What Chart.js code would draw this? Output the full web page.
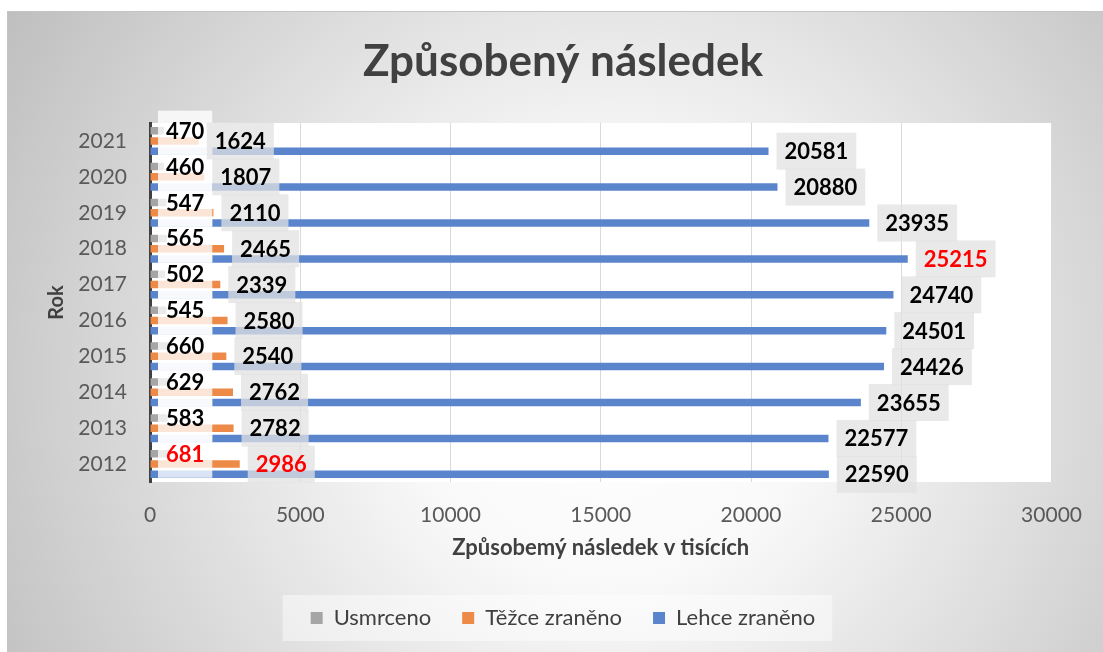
<!DOCTYPE html>
<html>
<head>
<meta charset="utf-8">
<script src="https://cdn.jsdelivr.net/npm/chart.js@4"></script>
<style>
  html, body { margin: 0; padding: 0; background: #fff; }
</style>
</head>
<body>
<canvas id="nasledek" width="1103" height="652"></canvas>
<script>
const years = ['2012', '2013', '2014', '2015', '2016', '2017', '2018', '2019', '2020', '2021'];
const usmrceno = [681, 583, 629, 660, 545, 502, 565, 547, 460, 470];
const tezce = [2986, 2782, 2762, 2540, 2580, 2339, 2465, 2110, 1807, 1624];
const lehce = [22590, 22577, 23655, 24426, 24501, 24740, 25215, 23935, 20880, 20581];
const seriesNames = ['Usmrceno', 'Těžce zraněno', 'Lehce zraněno'];
const seriesColors = ['#A5A5A5', '#EE8A47', '#5A85CD'];

const FONT = 'Lato';

// gradient frame, legend panel and white plot area
const backdrop = {
  id: 'backdrop',
  beforeDraw(chart) {
    const { ctx, chartArea: a, width, height } = chart;
    ctx.save();
    const g = ctx.createRadialGradient(610, 380, 30, 610, 380, 720);
    g.addColorStop(0, '#ffffff');
    g.addColorStop(0.25, '#f9f9f9');
    g.addColorStop(1, '#bdbdbd');
    ctx.fillStyle = g;
    ctx.fillRect(7, 11, width - 7, height - 11);
    ctx.strokeStyle = '#c4c4c4';
    ctx.lineWidth = 1;
    ctx.strokeRect(7.5, 11.5, width, height);

    const hb = chart.legend.legendHitBoxes;
    if (hb && hb.length) {
      const l = Math.min(...hb.map(b => b.left));
      const r = Math.max(...hb.map(b => b.left + b.width));
      const cy = hb[0].top + hb[0].height / 2;
      ctx.fillStyle = 'rgba(255,255,255,0.45)';
      ctx.fillRect(l - 28, cy - 23, r - l + 45, 46);
    }

    ctx.fillStyle = '#ffffff';
    ctx.fillRect(a.left, a.top, a.right - a.left, a.bottom - a.top);
    ctx.restore();
  }
};

// value labels in translucent boxes, max of each series in red
const valueBoxes = {
  id: 'valueBoxes',
  afterDatasetsDraw(chart) {
    const { ctx, scales: { x } } = chart;
    ctx.save();
    ctx.font = 'bold 22px ' + FONT;
    ctx.textBaseline = 'middle';
    ctx.textAlign = 'left';
    chart.data.datasets.forEach((ds, di) => {
      const meta = chart.getDatasetMeta(di);
      const maxVal = Math.max(...ds.data);
      meta.data.forEach((bar, i) => {
        const v = ds.data[i];
        const text = String(v);
        const w = ctx.measureText(text).width + 16;
        const h = di === 0 ? 44 : 37;
        const left = (di === 0 ? x.getPixelForValue(0) : bar.x) + 8;
        const cy = bar.y;
        ctx.fillStyle = di === 0 ? 'rgba(255,255,255,0.78)' : 'rgba(225,225,225,0.75)';
        ctx.fillRect(left, cy - h / 2 + (di === 0 ? 2 : 0), w, h);
        ctx.fillStyle = v === maxVal ? '#FF0000' : '#000000';
        ctx.fillText(text, left + 8, cy + 1);
      });
    });
    ctx.restore();
  }
};

function draw() {
  new Chart(document.getElementById('nasledek'), {
    type: 'bar',
    data: {
      labels: years,
      datasets: [usmrceno, tezce, lehce].map((d, i) => ({
        label: seriesNames[i],
        data: d,
        backgroundColor: seriesColors[i],
        borderWidth: 0,
        categoryPercentage: 0.857,
        barPercentage: 0.73
      }))
    },
    options: {
      indexAxis: 'y',
      responsive: false,
      animation: false,
      devicePixelRatio: 1,
      layout: { padding: { top: 11, left: 25, right: 2, bottom: 13 } },
      plugins: {
        title: {
          display: true,
          text: 'Způsobený následek',
          color: '#404040',
          font: { family: FONT, size: 44, weight: 'bold' },
          padding: { top: 24.5, bottom: 34.7 }
        },
        legend: {
          position: 'bottom',
          labels: {
            color: '#404040',
            font: { family: FONT, size: 22 },
            boxWidth: 12,
            boxHeight: 12,
            padding: 31
          }
        },
        tooltip: { enabled: false }
      },
      scales: {
        x: {
          min: 0,
          max: 30000,
          grid: { color: '#d9d9d9', drawTicks: false },
          border: { display: false },
          ticks: {
            stepSize: 5000,
            color: '#595959',
            font: { family: FONT, size: 21 },
            padding: 21,
            callback: v => String(v)
          },
          title: {
            display: true,
            text: 'Způsobemý následek v tisících',
            color: '#404040',
            font: { family: FONT, size: 22, weight: 'bold' },
            padding: { top: 0, bottom: 14.8 }
          },
          afterFit: s => { s.height = 94; }
        },
        y: {
          reverse: true,
          grid: { display: false, drawTicks: false },
          border: { color: '#404040', width: 3 },
          ticks: {
            color: '#595959',
            font: { family: FONT, size: 21 },
            padding: 23
          },
          title: {
            display: true,
            text: 'Rok',
            color: '#404040',
            font: { family: FONT, size: 20, weight: 'bold' },
            padding: { top: 20, bottom: 0 }
          },
          afterFit: s => { s.width = 125; }
        },
        pad: {
          type: 'linear',
          position: 'right',
          grid: { display: false, drawTicks: false },
          border: { display: false },
          ticks: { display: false },
          afterFit: s => { s.width = 47; }
        }
      }
    },
    plugins: [backdrop, valueBoxes]
  });
}

Promise.all([
  document.fonts.load('bold 44px ' + FONT),
  document.fonts.load('21px ' + FONT),
  document.fonts.load('bold 22px ' + FONT)
]).then(draw, draw);
</script>
</body>
</html>
